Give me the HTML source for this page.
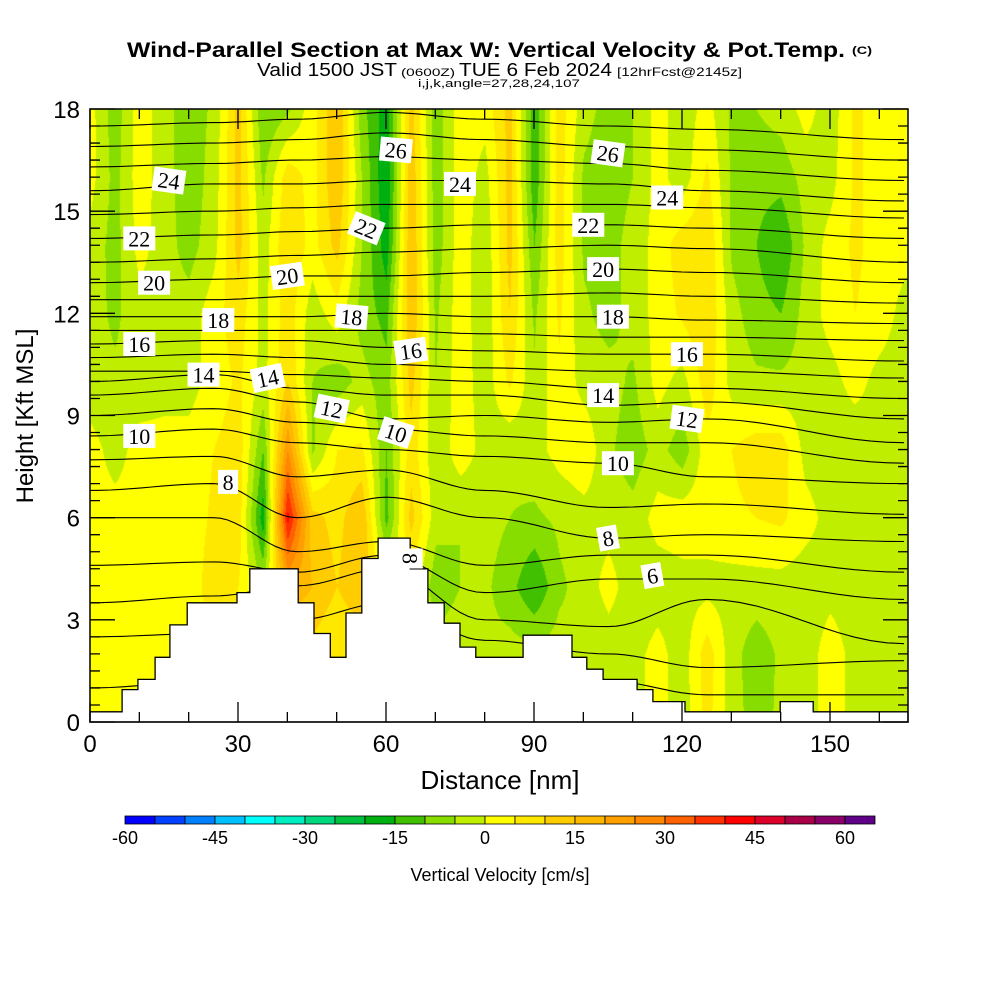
<!DOCTYPE html>
<html><head><meta charset="utf-8">
<style>
html,body{margin:0;padding:0;background:#fff;}
#wrap{position:relative;width:1000px;height:1000px;overflow:hidden;background:#fff;}
canvas{position:absolute;left:0;top:0;}
svg{position:absolute;left:0;top:0;}
text{font-family:"Liberation Sans",sans-serif;}
</style></head>
<body>
<div id="wrap">
<canvas id="cv" width="1000" height="1000"></canvas>
<svg id="sv" width="1000" height="1000" xmlns="http://www.w3.org/2000/svg"></svg>
</div>
<script>
// ---- data ----
const colX = [0,5,10,15,20,25,30,35,40,45,50,55,60,65,70,75,80,85,90,95,100,105,110,115,120,125,130,135,140,145,150,155,160,165];
const rowH = [18,16,14,12,10,8,6,4,2,0];
const wRow18 = [2,-8,3,-3,-8,-4,12,-10,-6,3,15,-8,-18,12,-8,3,2,12,-14,8,-3,-7,-5,2,-3,2,-6,-5,-3,2,-3,6,3,2];
const wRow16 = [2,-7,3,-3,-8,-3,12,-6,8,3,15,-5,-20,14,-8,3,-2,12,-14,8,-6,-8,-5,2,-3,6,-6,-8,-8,-3,-2,6,3,2];
const wRow14 = [-2,-7,2,-3,-7,-2,12,-3,10,3,12,-5,-18,15,-8,3,-4,12,-10,8,-6,-7,-3,2,8,10,-6,-10,-15,-4,2,6,3,2];
const wRow12 = [-3,-6,-2,-3,-3,3,8,-2,8,-3,3,-7,-12,15,-6,3,-4,10,-6,6,-4,-7,-3,2,6,10,-3,-8,-10,-3,2,5,3,-2];
const wRow10 = [-3,-4,-3,-2,-2,2,6,-2,10,-5,-8,-3,-8,12,-5,3,-3,6,-4,4,-2,-3,-6,2,-2,8,-2,-4,-4,-3,-2,2,-2,-3];
const wRow8  = [2,-2,2,2,2,5,8,-10,25,-6,5,6,-10,8,-4,3,-2,-4,-2,2,4,-4,-8,-3,-8,3,5,8,8,-2,-3,-4,-2,-3];
const wRow6  = [2,2,2,2,2,6,8,-18,42,12,8,15,-12,12,-3,-5,-3,-5,-6,-4,-2,-2,-3,2,3,3,4,5,6,2,-2,-3,-2,-3];
const wRow4  = [2,2,2,2,2,8,5,-5,20,15,10,15,3,3,-8,-5,-4,-8,-15,-6,-3,2,-3,-3,-2,-2,-2,-2,-2,-3,-2,-3,-2,-2];
const wRow2  = [2,2,2,2,2,4,4,4,6,8,5,5,5,3,-3,-2,-4,-3,-3,-3,-5,-3,-2,2,-3,8,-3,-8,-4,-3,3,-2,-2,-3];
const wRow0  = [2,2,2,2,2,3,3,3,5,6,5,5,4,3,-3,-2,-3,-3,-3,-3,-4,-3,-2,2,-3,7,-3,-7,-4,-3,3,-2,-2,-3];
const cbLevels = [-60,-55,-50,-45,-40,-35,-30,-25,-20,-15,-10,-5,0,5,10,15,20,25,30,35,40,45,50,55,60];
const cbColors = ["#0000ff","#0040ff","#0080ff","#00c0ff","#00ffff","#00eec0","#00d880","#00c040","#00b010","#40c000","#88dd00","#c0ee00","#ffff00","#ffe800","#ffcc00","#ffb800","#ffa000","#ff8800","#ff6000","#ff3000","#ff0000","#dd0028","#aa0048","#880068","#600088"];
const cbTicks = [-60,-45,-30,-15,0,15,30,45,60];
const thetaNodesX = [0,25,42,60,80,105,125,165];
const thetaLevels = [3,4,5,6,7,8,9,10,11,12,13,14,15,16,17,18,19,20,21,22,23,24,25,26,27];
const th3=[1.0,1.2,1.5,2.0,1.8,1.2,0.8,0.8], th4=[2.5,2.6,3.0,3.5,2.4,2.0,1.6,1.8], th5=[3.5,3.7,4.0,4.5,3.0,2.8,3.6,2.3];
const th6=[4.6,4.7,4.4,4.9,3.8,4.2,4.2,3.6], th7=[6.0,6.0,5.0,5.3,4.6,4.9,4.9,4.4], th8=[6.8,7.0,6.0,6.6,6.0,5.4,5.5,5.3];
const th9=[7.7,7.8,7.2,7.4,6.8,6.3,6.4,6.1], th10=[8.4,8.6,8.2,8.0,7.8,7.6,7.2,7.0], th11=[9.0,9.2,8.8,8.6,8.4,8.2,8.2,7.6];
const th12=[9.6,9.8,9.4,8.9,9.0,8.8,8.9,8.2], th13=[10.0,10.2,9.8,9.6,9.6,9.3,9.4,8.9], th14=[10.3,10.3,10.2,10.1,10.0,9.8,9.8,9.5];
const th15=[10.7,10.8,10.7,10.5,10.4,10.3,10.3,10.1], th16=[11.1,11.2,11.2,11.0,10.9,10.8,10.8,10.6], th17=[11.5,11.5,11.5,11.5,11.4,11.3,11.3,11.2];
const th18=[11.9,11.9,11.9,12.0,11.9,11.9,11.8,11.7], th19=[12.4,12.4,12.5,12.5,12.5,12.6,12.5,12.3], th20=[12.9,13.0,13.1,13.1,13.2,13.3,13.2,12.9];
const th21=[13.5,13.6,13.7,13.8,13.9,14.0,13.9,13.5], th22=[14.2,14.3,14.4,14.5,14.6,14.6,14.5,14.2], th23=[14.9,15.0,15.1,15.2,15.2,15.2,15.1,14.8];
const th24=[15.6,15.8,15.8,15.9,15.9,15.8,15.6,15.3], th25=[16.3,16.4,16.5,16.6,16.5,16.4,16.2,15.9], th26=[16.9,17.0,17.1,17.3,17.1,16.9,16.8,16.5];
const th27=[17.5,17.6,17.7,17.9,17.7,17.5,17.4,17.1];
const labelText = ["24","22","20","16","14","10","8","18","20","14","12","18","22","10","26","16","24","8","26","22","20","18","14","16","12","10","24","8","6"];
const labelX = [16,10,13,10,23,10,28,26,40,36,49,53,56,62,62,65,75,65,105,101,104,106,104,121,121,107,117,105,114];
const labelH = [15.9,14.2,12.9,11.1,10.2,8.4,7.05,11.8,13.1,10.1,9.2,11.9,14.5,8.5,16.8,10.9,15.8,4.8,16.7,14.6,13.3,11.9,9.6,10.8,8.9,7.6,15.4,5.4,4.3];
const labelRot = [8,0,0,0,0,0,0,0,-8,-12,12,5,22,18,5,-8,0,90,8,0,0,0,0,0,8,0,0,-10,-10];
const terrEdges = [0,6.5,9.7,13.2,16.2,19.7,29.8,32.4,42.2,45.4,48.7,51.9,55.1,58.4,64.9,68.5,71.8,75,78.2,87.8,97.7,100.7,104,110.9,114.1,120.6,139.9,146.6,166];
const terrH = [0.3,0.95,1.25,1.9,2.85,3.5,3.8,4.5,3.5,2.6,1.9,3.2,4.8,5.4,4.5,3.5,2.9,2.2,1.9,2.55,1.9,1.55,1.25,0.95,0.6,0.3,0.6,0.3];
const xTicks=[0,30,60,90,120,150], yTicks=[0,3,6,9,12,15,18];

// ---- axes ----
const PL=90,PR=908,PT=109,PB=722;
const sx = x => PL + x*(148/30);
const sy = h => PB - h*((PB-PT)/18);
const wRows=[wRow18,wRow16,wRow14,wRow12,wRow10,wRow8,wRow6,wRow4,wRow2,wRow0];
const thRows=[th3,th4,th5,th6,th7,th8,th9,th10,th11,th12,th13,th14,th15,th16,th17,th18,th19,th20,th21,th22,th23,th24,th25,th26,th27];

function hex(c){return [parseInt(c.substr(1,2),16),parseInt(c.substr(3,2),16),parseInt(c.substr(5,2),16)];}
function sample(x,h){
  let ci=Math.min(colX.length-2,Math.max(0,Math.floor(x/5)));let fx=(x-colX[ci])/5;fx=Math.max(0,Math.min(1,fx));
  let hv=18-h; let ri=Math.min(rowH.length-2,Math.max(0,Math.floor(hv/2)));let fy=(hv-(18-rowH[ri]))/2;fy=Math.max(0,Math.min(1,fy));
  const a=wRows[ri][ci],b=wRows[ri][ci+1],c=wRows[ri+1][ci],d=wRows[ri+1][ci+1];
  return (a*(1-fx)+b*fx)*(1-fy)+(c*(1-fx)+d*fx)*fy;
}
// field
const cv=document.getElementById('cv');const ctx=cv.getContext('2d');
const img=ctx.createImageData(PR-PL,PB-PT);
const rgb=cbColors.map(hex);
for(let py=0;py<PB-PT;py++){for(let px=0;px<PR-PL;px++){
  const x=px/(148/30),h=(PB-PT-py)*18/(PB-PT);
  const v=sample(x,h);let i=Math.floor((v+60)/5);i=Math.max(0,Math.min(24,i));
  const o=(py*(PR-PL)+px)*4;img.data[o]=rgb[i][0];img.data[o+1]=rgb[i][1];img.data[o+2]=rgb[i][2];img.data[o+3]=255;}}
ctx.putImageData(img,PL,PT);

const NS="http://www.w3.org/2000/svg";const sv=document.getElementById('sv');
function el(t,attrs,parent){const e=document.createElementNS(NS,t);for(const k in attrs)e.setAttribute(k,attrs[k]);(parent||sv).appendChild(e);return e;}

// contours
const cg=el('g',{});


thetaLevels.forEach((lv,k)=>{
  const hs=thRows[k];let d='';
  for(let i=0;i<thetaNodesX.length-1;i++){
    const x0=thetaNodesX[i],x1=thetaNodesX[i+1];const n=12;
    for(let j=0;j<=n;j++){const t=j/n;const s=(1-Math.cos(Math.PI*t))/2;
      const x=x0+(x1-x0)*t;const h=hs[i]+(hs[i+1]-hs[i])*s;
      d+=(d?'L':'M')+sx(x).toFixed(1)+','+sy(h).toFixed(1);}
  }
  const p=el('path',{d:d,fill:'none',stroke:'#000','stroke-width':1.1},cg);
  
  
});
// terrain
let td='M'+sx(0)+','+PB;
terrH.forEach((h,i)=>{td+='L'+sx(terrEdges[i]).toFixed(1)+','+sy(h).toFixed(1)+'L'+Math.min(PR,sx(terrEdges[i+1])).toFixed(1)+','+sy(h).toFixed(1);});
td+='L'+PR+','+PB+'Z';
const tp=el('path',{d:td,fill:'#fff',stroke:'#000','stroke-width':1.3});


// labels
labelText.forEach((t,i)=>{
  const g=el('g',{transform:'translate('+sx(labelX[i]).toFixed(1)+','+sy(labelH[i]).toFixed(1)+') rotate('+labelRot[i]+')'});
  
  
  const w=t.length*12+8;
  el('rect',{x:-w/2,y:-12,width:w,height:24,fill:'#fff'},g);
  const tx=el('text',{x:0,y:8,'text-anchor':'middle','font-size':22,style:'font-family:"Liberation Serif",serif'},g);tx.textContent=t;
});
// frame
const fr=el('rect',{x:PL,y:PT,width:PR-PL,height:PB-PT,fill:'none',stroke:'#000','stroke-width':1.5});


// ticks
let tk='';
for(let x=0;x<=165;x+=10){const X=sx(x);const L=(x%30===0)?14:10;tk+='M'+X+','+PB+'v-'+L+'M'+X+','+PT+'v'+L;}
for(let x=0;x<=165;x+=30){const X=sx(x);tk+='M'+X+','+PB+'v-20M'+X+','+PT+'v20';}
for(let h=0;h<=18;h+=0.5){const Y=sy(h);const L=(h%3===0)?25:10;tk+='M'+PL+','+Y+'h'+L+'M'+PR+','+Y+'h-'+L;}
const tkp=el('path',{d:tk,stroke:'#000','stroke-width':1.3,fill:'none'});


xTicks.forEach(v=>{const t=el('text',{x:sx(v),y:752,'text-anchor':'middle','font-size':24});t.textContent=v;
  
  });
yTicks.forEach(v=>{const t=el('text',{x:80,y:sy(v)+9,'text-anchor':'end','font-size':24});t.textContent=v;
  
  });
const xt=el('text',{x:500,y:789,'text-anchor':'middle','font-size':26});xt.textContent='Distance [nm]';


const yt=el('text',{x:0,y:0,'text-anchor':'middle','font-size':24,transform:'translate(33,416) rotate(-90)'});yt.textContent='Height [Kft MSL]';


// titles
function T(s,x,y,size,len,name,bold){const t=el('text',{x:x,y:y,'font-size':size,textLength:len,lengthAdjust:'spacingAndGlyphs','font-weight':bold?'bold':'normal'});t.textContent=s;
  
  return t;}
T('Wind-Parallel Section at Max W: Vertical Velocity & Pot.Temp.',127,57,21,718,'chart-title',true);
T('(C)',852,54,11,20,'copyright-mark',true);
T('Valid 1500 JST',257,76,18,140,'subtitle-valid');
T('(0600Z)',401,76,11,54,'subtitle-utc');
T('TUE 6 Feb 2024',459,76,18,153,'subtitle-date');
T('[12hrFcst@2145z]',617,76,12,125,'subtitle-forecast');
T('i,j,k,angle=27,28,24,107',418,87,11,162,'subtitle-indices');
// colorbar
const cbg=el('g',{});


const cbL=125,cbW=30;
cbColors.forEach((c,i)=>{const r=el('rect',{x:cbL+i*cbW,y:816,width:cbW,height:8,fill:c,stroke:'#000','stroke-width':0.8},cbg);
  
  });
cbTicks.forEach(v=>{const i=cbLevels.indexOf(v);const t=el('text',{x:cbL+i*cbW,y:844,'text-anchor':'middle','font-size':18},cbg);t.textContent=v;
  
  });
const ct=el('text',{x:500,y:881,'text-anchor':'middle','font-size':18});ct.textContent='Vertical Velocity [cm/s]';


</script>
</body></html>
